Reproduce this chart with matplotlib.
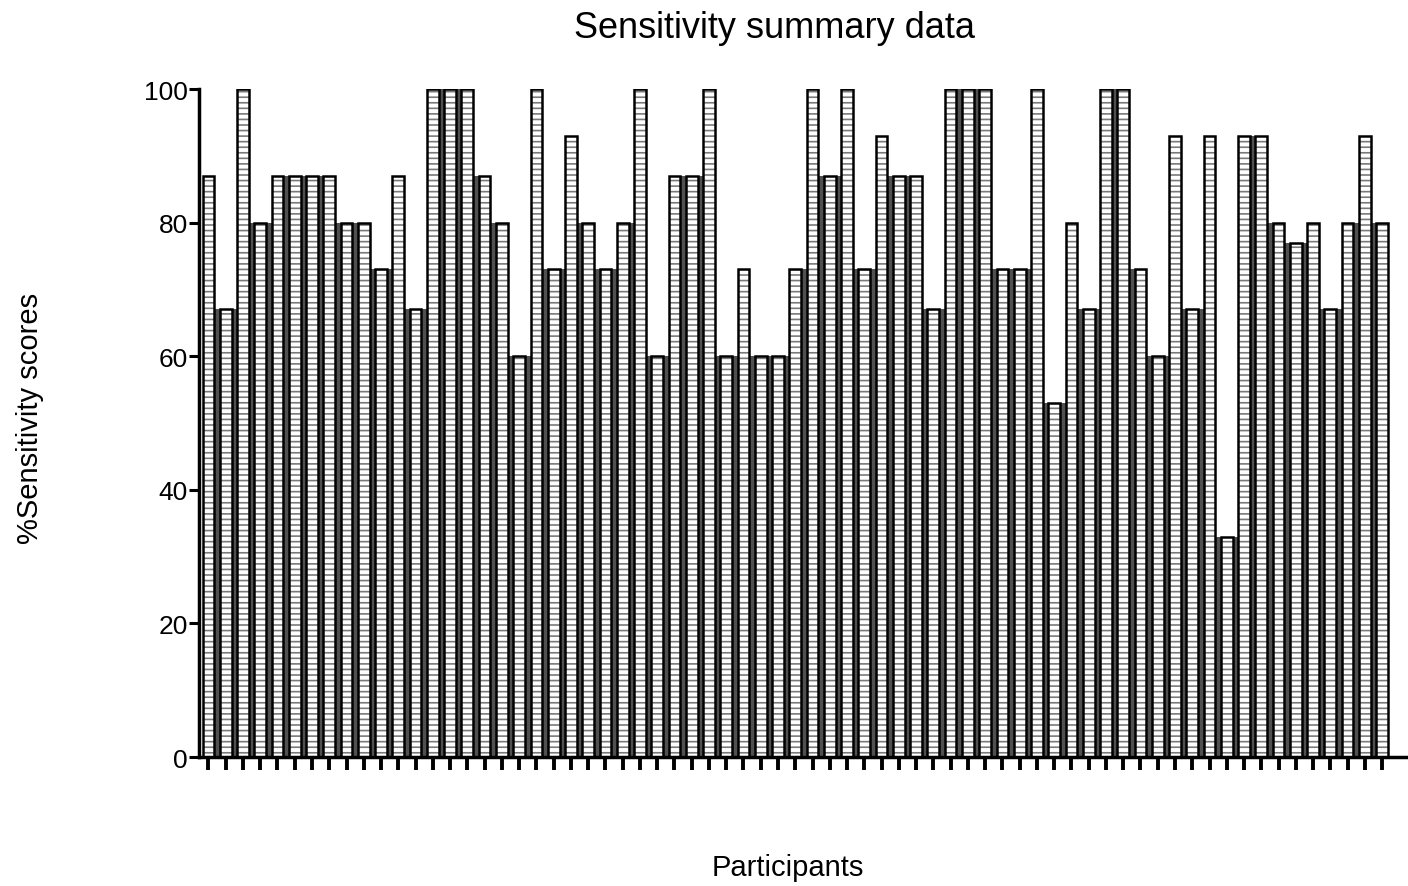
import matplotlib
matplotlib.use("Agg")
import matplotlib.pyplot as plt
import numpy as np

# % sensitivity score per participant (69 participants)
scores = [87, 67, 100, 80, 87, 87, 87, 87, 80, 80, 73, 87, 67, 100, 100, 100, 87, 80,
          60, 100, 73, 93, 80, 73, 80, 100, 60, 87, 87, 100, 60, 73, 60, 60, 73, 100,
          87, 100, 73, 93, 87, 87, 67, 100, 100, 100, 73, 73, 100, 53, 80, 67, 100, 100,
          73, 60, 93, 67, 93, 33, 93, 93, 80, 77, 80, 67, 80, 93, 80]
y_ticks = [0, 20, 40, 60, 80, 100]

plt.rcParams['font.family'] = ['Liberation Sans', 'DejaVu Sans']
plt.rcParams['hatch.linewidth'] = 1.2

x = np.arange(len(scores))
bar_w = 0.68

fig = plt.figure(figsize=(14.08, 8.87), dpi=100)
ax = fig.add_axes([0.1413, 0.1454, 0.8587, 0.7531])

# dark fill in the gaps between neighbouring bars
gap_h = np.minimum(scores[:-1], scores[1:])
ax.bar(x[:-1] + 0.5, gap_h, width=1 - bar_w, color='#505050', linewidth=0, zorder=1)

# white bars with grey ladder pattern, then black outlines
ax.bar(x, scores, width=bar_w, color='white', edgecolor='#7a7a7a', hatch='---',
       linewidth=0, zorder=2)
ax.bar(x, scores, width=bar_w, fill=False, edgecolor='black', linewidth=1.8, zorder=3)

ax.set_xlim(-0.55, 69.5)
ax.set_ylim(0, 100)
ax.set_yticks(y_ticks)
ax.set_xticks(x)
ax.set_xticklabels([])

for s in ['top', 'right']:
    ax.spines[s].set_visible(False)
for s in ['left', 'bottom']:
    ax.spines[s].set_linewidth(2.5)

ax.tick_params(axis='y', length=7, width=2.2, labelsize=19, pad=1)
ax.tick_params(axis='x', length=9, width=2.8)

fig.text(775 / 1408, 1 - 28 / 887, 'Sensitivity summary data', fontsize=26,
         ha='center', va='center')
fig.text(30 / 1408, 1 - 418 / 887, '%Sensitivity scores', fontsize=21,
         rotation=90, ha='center', va='center')
fig.text(788 / 1408, 1 - 868 / 887, 'Participants', fontsize=21,
         ha='center', va='center')

fig.savefig('out.png', dpi=100)
